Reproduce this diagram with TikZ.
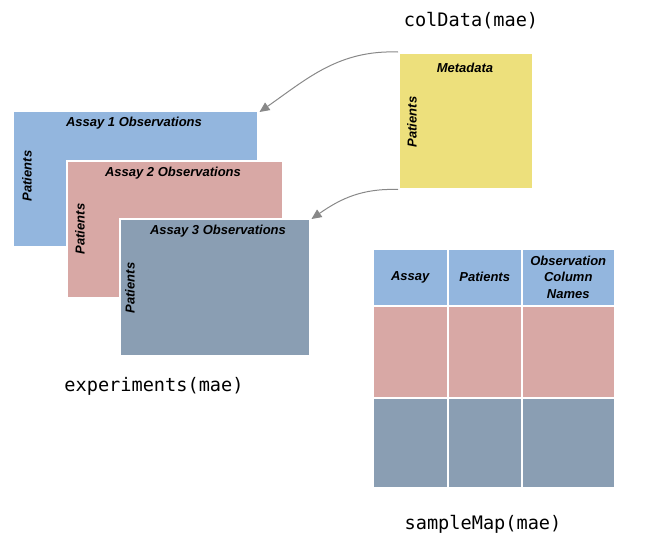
\documentclass[tikz,border=0pt]{standalone}
\usepackage{fontspec}
\setsansfont{Liberation Sans}
\setmonofont{DejaVu Sans Mono}
\usetikzlibrary{arrows.meta}

\definecolor{assayblue}{HTML}{93B6DE}
\definecolor{assaypink}{HTML}{D8A8A5}
\definecolor{assayslate}{HTML}{8A9EB3}
\definecolor{metayellow}{HTML}{EDE07C}
\definecolor{arrowgray}{HTML}{888888}

\tikzset{
    block/.style = {draw=white, line width=1.5pt, anchor=north west, inner sep=0pt},
    boldlabel/.style = {font=\sffamily\bfseries\itshape\fontsize{13}{16.5}\selectfont, inner sep=0pt},
    sidelabel/.style = {boldlabel, rotate=90},
    codelabel/.style = {font=\ttfamily\fontsize{18.6}{21}\selectfont, inner sep=0pt},
    flowarrow/.style = {-{Triangle[length=10pt,width=9pt]}, arrowgray, line width=1pt}
}

\begin{document}
\begin{tikzpicture}[x=1pt, y=-1pt]
    \useasboundingbox (0,0) rectangle (652,546);

    % stacked assays
    \node [block, fill=assayblue, minimum width=245pt, minimum height=136pt] (assayA) at (12,110) {};
    \node [block, fill=assaypink, minimum width=216pt, minimum height=137pt] (assayB) at (66,160) {};
    \node [block, fill=assayslate, minimum width=190pt, minimum height=137pt] (assayC) at (119,218) {};
    \node [boldlabel] (titleA) at (134,123) {Assay 1 Observations};
    \node [boldlabel] (titleB) at (173,173) {Assay 2 Observations};
    \node [boldlabel] (titleC) at (218,231) {Assay 3 Observations};
    \node [sidelabel] (sideA) at (27,176) {Patients};
    \node [sidelabel] (sideB) at (80,229) {Patients};
    \node [sidelabel] (sideC) at (130,288) {Patients};

    % metadata
    \node [block, fill=metayellow, minimum width=134pt, minimum height=136pt] (meta) at (398,52) {};
    \node [boldlabel] (metatitle) at (465,68) {Metadata};
    \node [sidelabel] (metaside) at (412,122) {Patients};

    \draw [flowarrow] (meta.north west) to [out=178, in=35] ([xshift=1pt,yshift=-2pt]assayA.north east);
    \draw [flowarrow] (meta.south west) to [out=178, in=35] ([xshift=1pt,yshift=-1pt]assayC.north east);

    % sample map table
    \foreach \cx/\cw [count=\i] in {372/75, 447/74, 521/93} {
        \node [block, fill=assayblue, minimum width=\cw pt, minimum height=57pt] (head\i) at (\cx,248) {};
        \node [block, fill=assaypink, minimum width=\cw pt, minimum height=92pt] (rowB\i) at (\cx,305) {};
        \node [block, fill=assayslate, minimum width=\cw pt, minimum height=90pt] (rowC\i) at (\cx,397) {};
    }
    \node [boldlabel] at (head1) {Assay};
    \node [boldlabel] at (head2) {Patients};
    \node [boldlabel, align=center] at (head3) {Observation\\Column\\Names};

    % accessor names
    \node [codelabel] (coldata) at (471,21) {colData(mae)};
    \node [codelabel] (experiments) at (154,386) {experiments(mae)};
    \node [codelabel] (samplemap) at (483,524) {sampleMap(mae)};
\end{tikzpicture}
\end{document}
